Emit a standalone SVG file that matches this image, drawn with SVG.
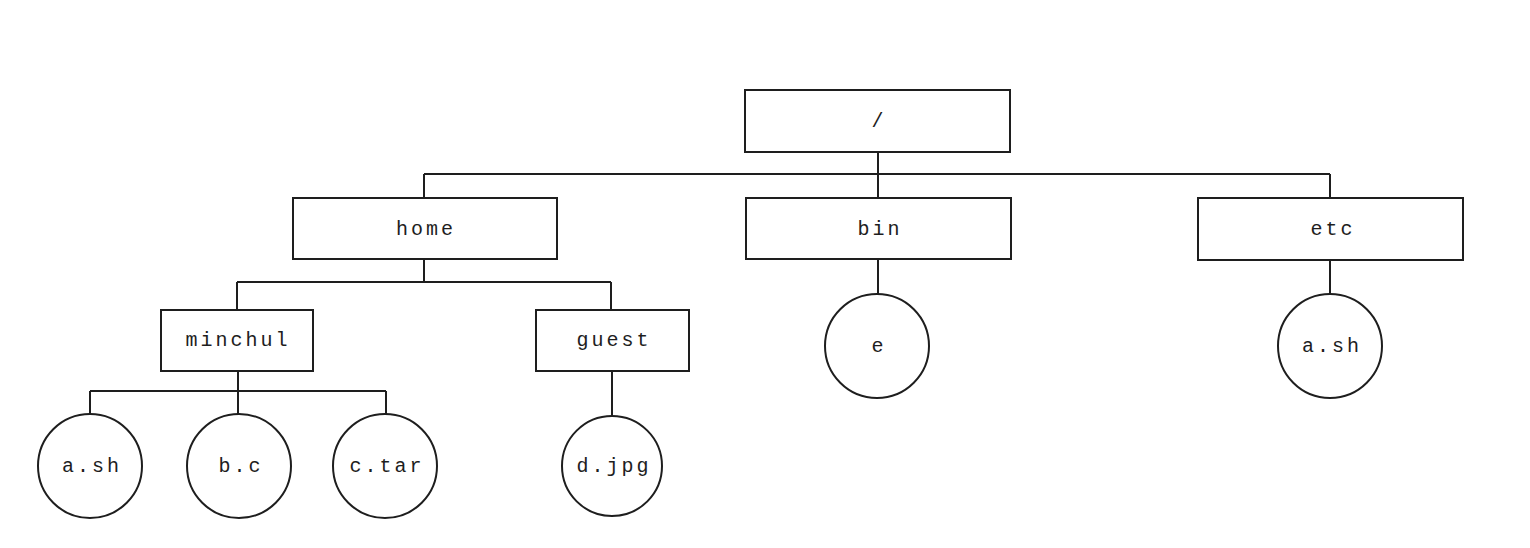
<svg xmlns="http://www.w3.org/2000/svg" width="1530" height="548" viewBox="0 0 1530 548">
<style>
.box{fill:#fff;stroke:#1e1e1e;stroke-width:2}
.file{fill:#fff;stroke:#1e1e1e;stroke-width:2}
.lbl{font-family:"Liberation Mono","DejaVu Sans Mono",monospace;font-size:20px;letter-spacing:3px;fill:#1e1e1e;text-anchor:middle;dominant-baseline:central}
.conn{fill:none;stroke:#1e1e1e;stroke-width:2}
</style>
<rect width="1530" height="548" fill="#fff"/>
<g id="connectors">
<path class="conn" d="M878 152V174M424 174H1330M424 174V198M878 174V198M1330 174V198"/>
<path class="conn" d="M424 259V282M237 282H611M237 282V310M611 282V310"/>
<path class="conn" d="M238 371V391M90 391H386M90 391V414M238 391V414M386 391V414"/>
<path class="conn" d="M612 371V416"/>
<path class="conn" d="M878 259V294"/>
<path class="conn" d="M1330 260V294"/>
</g>
<g id="root"><rect class="box" x="745" y="90" width="265" height="62"/><text class="lbl" x="879" y="121">/</text></g>
<g id="home"><rect class="box" x="293" y="198" width="264" height="61"/><text class="lbl" x="426" y="229">home</text></g>
<g id="bin"><rect class="box" x="746" y="198" width="265" height="61"/><text class="lbl" x="880" y="229">bin</text></g>
<g id="etc"><rect class="box" x="1198" y="198" width="265" height="62"/><text class="lbl" x="1333" y="229">etc</text></g>
<g id="minchul"><rect class="box" x="161" y="310" width="152" height="61"/><text class="lbl" x="238" y="340">minchul</text></g>
<g id="guest"><rect class="box" x="536" y="310" width="153" height="61"/><text class="lbl" x="614" y="340">guest</text></g>
<g id="a_sh"><circle class="file" cx="90" cy="466" r="52"/><text class="lbl" x="92" y="466">a.sh</text></g>
<g id="b_c"><circle class="file" cx="239" cy="466" r="52"/><text class="lbl" x="241" y="466">b.c</text></g>
<g id="c_tar"><circle class="file" cx="385" cy="466" r="52"/><text class="lbl" x="387" y="466">c.tar</text></g>
<g id="d_jpg"><circle class="file" cx="612" cy="466" r="50"/><text class="lbl" x="614" y="466">d.jpg</text></g>
<g id="e"><circle class="file" cx="877" cy="346" r="52"/><text class="lbl" x="879" y="346">e</text></g>
<g id="etc_a_sh"><circle class="file" cx="1330" cy="346" r="52"/><text class="lbl" x="1332" y="346">a.sh</text></g>
</svg>
